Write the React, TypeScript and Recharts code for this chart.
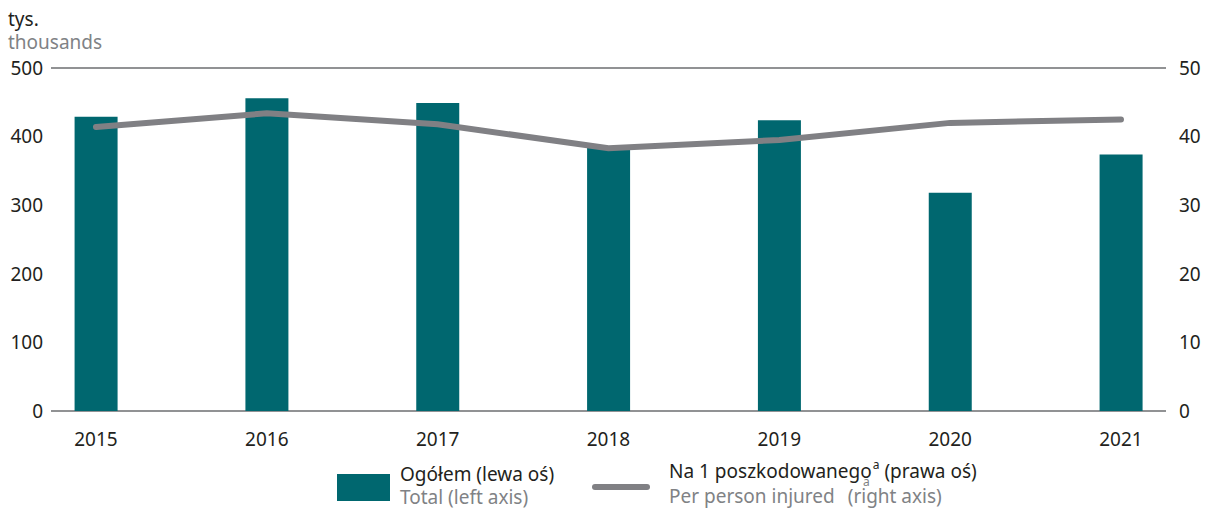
import React from "react";
import {
  ComposedChart,
  Bar,
  Line,
  XAxis,
  YAxis,
  CartesianGrid,
} from "recharts";

// Values
const years: number[] = [2015, 2016, 2017, 2018, 2019, 2020, 2021];
const totals: number[] = [429, 456, 449, 384, 424, 318, 374];
const perPerson: number[] = [41.4, 43.4, 41.8, 38.3, 39.5, 42.0, 42.5];
const leftTicks: number[] = [0, 100, 200, 300, 400, 500];
const rightTicks: number[] = [0, 10, 20, 30, 40, 50];

const data = years.map((year, i) => ({
  year,
  total: totals[i],
  perPerson: perPerson[i],
}));

const TEAL = "#00676f";
const LINE_GREY = "#808084";
const GRID = "#6d6e71";
const DARK = "#231f20";
const SOFT = "#808285";
const FONT = "'Noto Sans', sans-serif";

const tickStyle = { fill: DARK, fontSize: 19, fontFamily: FONT };

const App: React.FC = () => {
  return (
    <div
      style={{
        position: "absolute",
        left: 0,
        top: 0,
        width: 1205,
        height: 513,
        overflow: "hidden",
        fontFamily: FONT,
        fontSize: 19,
        lineHeight: "23px",
        background: "#fff",
      }}
    >
      {/* unit label */}
      <div style={{ position: "absolute", left: 8, top: 8 }}>
        <div style={{ color: DARK }}>tys.</div>
        <div style={{ color: SOFT }}>thousands</div>
      </div>

      <ComposedChart
        width={1205}
        height={513}
        data={data}
        margin={{ top: 68, right: 0, bottom: 72, left: 0 }}
        style={{ overflow: "visible" }}
      >
        <CartesianGrid vertical={false} stroke={GRID} strokeWidth={1.3} />
        <XAxis
          dataKey="year"
          type="number"
          domain={[2015, 2021]}
          ticks={years}
          padding={{ left: 45, right: 45 }}
          axisLine={false}
          tickLine={false}
          tickMargin={16}
          height={30}
          tick={tickStyle}
        />
        <YAxis
          yAxisId="left"
          width={51}
          domain={[0, 500]}
          ticks={leftTicks}
          axisLine={false}
          tickLine={false}
          tick={tickStyle}
        />
        <YAxis
          yAxisId="right"
          orientation="right"
          width={39}
          domain={[0, 50]}
          ticks={rightTicks}
          axisLine={false}
          tickLine={false}
          tickMargin={7}
          tick={tickStyle}
        />
        <Bar
          yAxisId="left"
          dataKey="total"
          fill={TEAL}
          barSize={43}
          isAnimationActive={false}
        />
        <Line
          yAxisId="right"
          dataKey="perPerson"
          type="linear"
          stroke={LINE_GREY}
          strokeWidth={6}
          strokeLinecap="round"
          dot={false}
          activeDot={false}
          isAnimationActive={false}
        />
      </ComposedChart>

      {/* legend */}
      <div
        style={{
          position: "absolute",
          left: 337,
          top: 474,
          width: 53,
          height: 27,
          background: TEAL,
        }}
      />
      <div style={{ position: "absolute", left: 400, top: 463, whiteSpace: "nowrap" }}>
        <div style={{ color: DARK }}>Ogółem (lewa oś)</div>
        <div style={{ color: SOFT }}>Total (left axis)</div>
      </div>
      <div
        style={{
          position: "absolute",
          left: 592,
          top: 484,
          width: 58,
          height: 6,
          borderRadius: 3,
          background: LINE_GREY,
        }}
      />
      <div style={{ position: "absolute", left: 669, top: 460, whiteSpace: "nowrap" }}>
        <div style={{ color: DARK }}>
          Na 1 poszkodowanego
          <span style={{ fontSize: 12, position: "relative", top: -9, marginLeft: 1 }}>a</span>
          {" "}(prawa oś)
        </div>
        <div style={{ color: SOFT, position: "relative" }}>
          Per person injured
          <span style={{ display: "inline-block", width: 13 }} />
          (right axis)
          <span
            style={{
              position: "absolute",
              left: 194,
              top: -9,
              fontSize: 12,
              lineHeight: "12px",
            }}
          >
            a
          </span>
        </div>
      </div>
    </div>
  );
};

export default App;
